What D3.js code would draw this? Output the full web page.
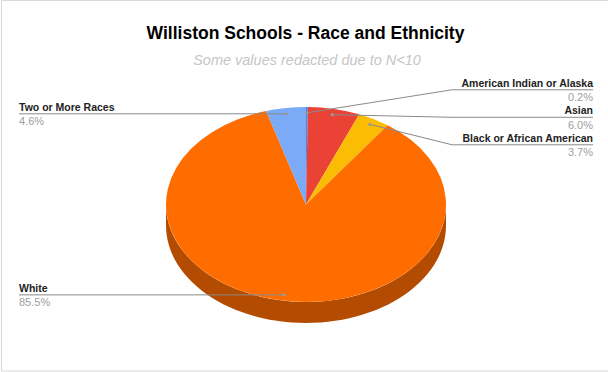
<!DOCTYPE html>
<html>
<head>
<meta charset="utf-8">
<script src="https://cdn.jsdelivr.net/npm/d3@7"></script>
<style>
  body { margin: 0; background: #fff; }
  svg { display: block; font-family: "Liberation Sans", Arial, sans-serif; }
</style>
</head>
<body>
<div id="chart"></div>
<script>
// data
var categories = ['American Indian or Alaska', 'Asian', 'Black or African American', 'White', 'Two or More Races']
var values = [0.2, 6.0, 3.7, 85.5, 4.6]
var percentLabels = ['0.2%', '6.0%', '3.7%', '85.5%', '4.6%']
var colors = ['#4285f4', '#ea4335', '#fbbc04', '#ff6d01', '#7baaf7']

var w = 608, h = 372
var cx = 306, cy = 204.5, rx = 140, ry = 97.5, depth = 21

var svg = d3.select('#chart').append('svg')
  .attr('width', w)
  .attr('height', h)

// frame
svg.append('rect')
  .attr('x', 1.5).attr('y', 0.5)
  .attr('width', 640).attr('height', 370.5)
  .attr('fill', 'none')
  .attr('stroke', '#d9d9d9')

svg.append('text')
  .attr('x', 305.5).attr('y', 38.5)
  .attr('text-anchor', 'middle')
  .style('font-size', '17.5px')
  .style('font-weight', 'bold')
  .attr('fill', '#000')
  .text('Williston Schools - Race and Ethnicity')

svg.append('text')
  .attr('x', 307).attr('y', 65)
  .attr('text-anchor', 'middle')
  .style('font-size', '14.5px')
  .style('font-style', 'italic')
  .attr('fill', '#c6c6c6')
  .text('Some values redacted due to N<10')

var pie = d3.pie().sort(null).value(d => d)
var arcs = pie(values)

// point on the top ellipse, angle clockwise from 12 o'clock
function pt(a, f) {
  return [cx + Math.sin(a) * rx * f, cy - Math.cos(a) * ry * f]
}

// side walls (front half only, angles PI/2 .. 3PI/2)
var sideG = svg.append('g')
arcs.forEach(function(d, i) {
  var a0 = Math.max(d.startAngle, Math.PI / 2)
  var a1 = Math.min(d.endAngle, Math.PI * 1.5)
  if (a1 <= a0) return
  var steps = 60
  var top = d3.range(steps + 1).map(k => pt(a0 + (a1 - a0) * k / steps, 1))
  var bottom = top.slice().reverse().map(p => [p[0], p[1] + depth])
  sideG.append('path')
    .attr('d', d3.line()(top.concat(bottom)) + 'Z')
    .attr('fill', d3.color(colors[i]).darker(1))
})

// top faces
var arc = d3.arc().innerRadius(0).outerRadius(1)
svg.append('g')
  .attr('transform', `translate(${cx},${cy}) scale(${rx},${ry})`)
  .selectAll('path')
  .data(arcs)
  .enter()
  .append('path')
  .attr('d', arc)
  .attr('fill', (d, i) => colors[i])

// labels
var anchorF = 0.94
var labels = arcs.map(function(d, i) {
  var mid = (d.startAngle + d.endAngle) / 2
  var p = pt(mid, anchorF)
  return { i: i, ax: p[0], ay: p[1], right: Math.sin(mid) >= 0, y: p[1] }
})

var gap = 27.5
function spread(list) {
  list.sort((a, b) => a.ay - b.ay)
  var groups = list.map(l => ({ items: [l], y: l.ay }))
  var merged = true
  while (merged) {
    merged = false
    for (var k = 0; k < groups.length - 1; k++) {
      var g1 = groups[k], g2 = groups[k + 1]
      var end1 = g1.y + (g1.items.length - 1) * gap / 2
      var start2 = g2.y - (g2.items.length - 1) * gap / 2
      if (start2 - end1 < gap) {
        var items = g1.items.concat(g2.items)
        groups.splice(k, 2, { items: items, y: d3.mean(items, it => it.ay) })
        merged = true
        break
      }
    }
  }
  groups.forEach(function(g) {
    g.items.forEach(function(it, j) {
      it.y = g.y + (j - (g.items.length - 1) / 2) * gap
    })
  })
}
spread(labels.filter(l => l.right))
spread(labels.filter(l => !l.right))

var lineG = svg.append('g')
var rightX = 593, elbowX = 452, leftX = 19

labels.forEach(function(l) {
  var pts
  if (l.right) {
    pts = [[l.ax, l.ay], [elbowX, l.y], [rightX, l.y]]
  } else {
    pts = [[l.ax, l.ay], [l.ax, l.y], [leftX, l.y]]
  }
  lineG.append('path')
    .attr('d', d3.line()(pts))
    .attr('fill', 'none')
    .attr('stroke', '#8a8a8a')
    .attr('stroke-width', 1)
  lineG.append('circle')
    .attr('cx', l.ax).attr('cy', l.ay)
    .attr('r', 1.6)
    .attr('fill', '#9a9a9a')

  var tx = l.right ? rightX : leftX
  var anchor = l.right ? 'end' : 'start'
  lineG.append('text')
    .attr('x', tx).attr('y', l.y - 3)
    .attr('text-anchor', anchor)
    .style('font-size', '10.5px')
    .style('font-weight', 'bold')
    .attr('fill', '#222')
    .text(categories[l.i])
  lineG.append('text')
    .attr('x', tx).attr('y', l.y + 11.5)
    .attr('text-anchor', anchor)
    .style('font-size', '11px')
    .attr('fill', '#9e9e9e')
    .text(percentLabels[l.i])
})
</script>
</body>
</html>
